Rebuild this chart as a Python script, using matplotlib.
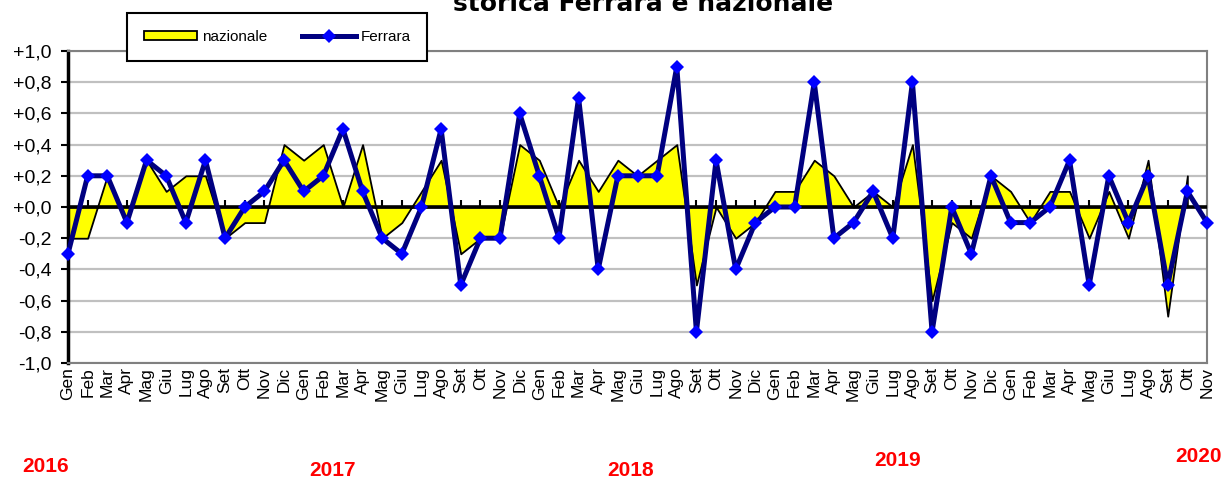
import numpy as np
import matplotlib.pyplot as plt
from matplotlib.patches import Patch
from matplotlib.lines import Line2D

# monthly data, Gen 2016 - Nov 2020
months = ['Gen', 'Feb', 'Mar', 'Apr', 'Mag', 'Giu',
          'Lug', 'Ago', 'Set', 'Ott', 'Nov', 'Dic']
month_labels = months * 4 + months[:11]

ferrara = [-0.3, 0.2, 0.2, -0.1, 0.3, 0.2, -0.1, 0.3, -0.2, 0.0, 0.1, 0.3,
           0.1, 0.2, 0.5, 0.1, -0.2, -0.3, 0.0, 0.5, -0.5, -0.2, -0.2, 0.6,
           0.2, -0.2, 0.7, -0.4, 0.2, 0.2, 0.2, 0.9, -0.8, 0.3, -0.4, -0.1,
           0.0, 0.0, 0.8, -0.2, -0.1, 0.1, -0.2, 0.8, -0.8, 0.0, -0.3, 0.2,
           -0.1, -0.1, 0.0, 0.3, -0.5, 0.2, -0.1, 0.2, -0.5, 0.1, -0.1]

# national series stops at Ott 2020
nazionale = [-0.2, -0.2, 0.2, -0.1, 0.3, 0.1, 0.2, 0.2, -0.2, -0.1, -0.1, 0.4,
             0.3, 0.4, 0.0, 0.4, -0.2, -0.1, 0.1, 0.3, -0.3, -0.2, -0.2, 0.4,
             0.3, 0.0, 0.3, 0.1, 0.3, 0.2, 0.3, 0.4, -0.5, 0.0, -0.2, -0.1,
             0.1, 0.1, 0.3, 0.2, 0.0, 0.1, 0.0, 0.4, -0.6, -0.1, -0.2, 0.2,
             0.1, -0.1, 0.1, 0.1, -0.2, 0.1, -0.2, 0.3, -0.7, 0.2, np.nan]

yticks = [-1.0, -0.8, -0.6, -0.4, -0.2, 0.0, 0.2, 0.4, 0.6, 0.8, 1.0]
ytick_labels = ['-1,0', '-0,8', '-0,6', '-0,4', '-0,2', '+0,0',
                '+0,2', '+0,4', '+0,6', '+0,8', '+1,0']

years = ['2016', '2017', '2018', '2019', '2020']
year_pos = [(46, 466), (332, 470), (631, 470), (898, 461), (1198, 456)]  # pixel centres

plt.rcParams['font.family'] = ['Liberation Sans', 'DejaVu Sans']

W, H = 1224, 480
fig = plt.figure(figsize=(W / 100, H / 100), dpi=100)
ax = fig.add_axes([68 / W, 1 - 363 / H, (1207 - 68) / W, (363 - 51) / H])

x = np.arange(len(month_labels))
naz = np.array(nazionale)
fer = np.array(ferrara)

ax.set_xlim(0, len(x) - 1)
ax.set_ylim(-1, 1)

for y in yticks:
    ax.axhline(y, color='#c0c0c0', lw=1.6, zorder=0)

ax.fill_between(x, naz, 0, facecolor='#ffff00', edgecolor='black',
                linewidth=1.3, zorder=2)
ax.axhline(0, color='black', lw=2.6, zorder=3)
ax.plot(x, fer, color='#000080', lw=3.6, marker='D', markersize=7.5,
        markerfacecolor='#0000ff', markeredgewidth=0, zorder=4, clip_on=False)

# tick marks along the zero line
sec = ax.secondary_xaxis(0.5)
sec.set_xticks(x)
sec.set_xticklabels([])
sec.tick_params(direction='out', length=5, width=1.5, color='black')
sec.spines['bottom'].set_visible(False)

ax.set_xticks(x)
ax.set_xticklabels(month_labels, rotation=90, fontsize=12.5)
ax.tick_params(axis='x', length=0, pad=3)

ax.set_yticks(yticks)
ax.set_yticklabels(ytick_labels, fontsize=14)
ax.tick_params(axis='y', direction='out', length=5, width=1.5, pad=7)

for side in ['top', 'right', 'bottom']:
    ax.spines[side].set_color('#808080')
    ax.spines[side].set_linewidth(1.5)
ax.spines['left'].set_color('black')
ax.spines['left'].set_linewidth(2.5)

# legend
handles = [Patch(facecolor='#ffff00', edgecolor='black', linewidth=1.3),
           Line2D([], [], color='#000080', lw=3.6, marker='D', markersize=7,
                  markerfacecolor='#0000ff', markeredgewidth=0)]
leg = fig.legend(handles, ['nazionale', 'Ferrara'], ncol=2,
                 loc='upper left', bbox_to_anchor=(127 / W, 1 - 13 / H),
                 fontsize=11, frameon=True, fancybox=False, framealpha=1,
                 edgecolor='black', borderpad=1.1, handlelength=3.5,
                 handleheight=0.6, handletextpad=0.3, columnspacing=2.3,
                 borderaxespad=0)
leg.get_frame().set_linewidth(1.5)
leg.set_zorder(10)

fig.text(643 / W, 1 - 11 / H, 'storica Ferrara e nazionale', ha='center',
         va='baseline', fontsize=18, fontweight='bold', family='DejaVu Sans')

for yr, (px, py) in zip(years, year_pos):
    fig.text(px / W, 1 - py / H, yr, ha='center', va='center', color='red',
             fontsize=15, fontweight='bold',
             family=['Liberation Sans Narrow', 'Liberation Sans'])

fig.savefig('out.png', dpi=100)
